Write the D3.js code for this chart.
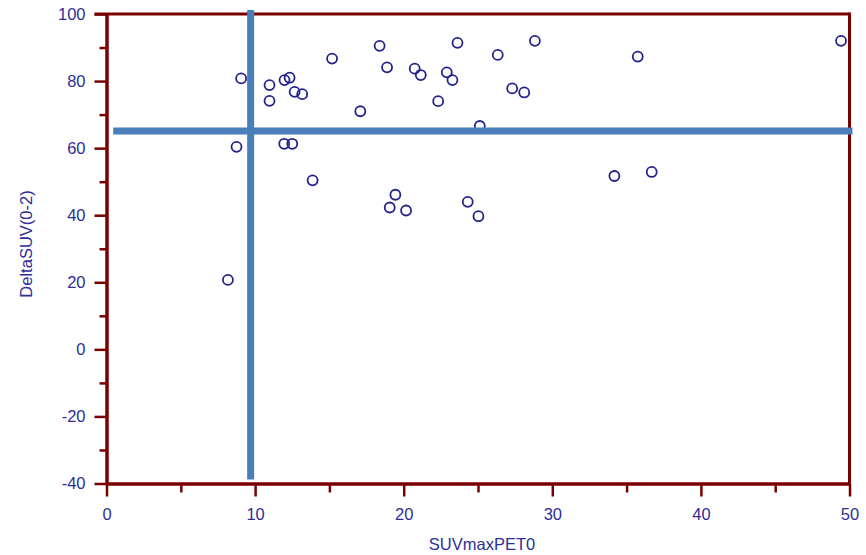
<!DOCTYPE html>
<html>
<head>
<meta charset="utf-8">
<script src="https://cdn.jsdelivr.net/npm/d3@7"></script>
<style>
  html, body { margin: 0; padding: 0; background: #fff; }
  svg { display: block; }
  text { font-family: Arial, "Liberation Sans", sans-serif; }
</style>
</head>
<body>
<svg id="chart" width="866" height="555"></svg>
<script>
// ---- Data ----
const suvmaxPET0 = [9.06, 10.97, 10.97, 11.98, 12.32, 12.66, 13.17, 15.18, 18.38, 18.88, 17.08, 8.75, 11.96, 12.5,
  23.62, 28.83, 26.33, 20.74, 21.15, 22.9, 23.28, 27.3, 28.11, 22.32, 25.12,
  13.87, 19.44, 19.06, 20.16, 24.31, 25.03, 8.17,
  35.75, 49.43, 34.18, 36.69];
const deltaSUV = [80.8, 78.8, 74.1, 80.3, 81.0, 76.8, 76.1, 86.7, 90.5, 84.1, 71.0, 60.4, 61.3, 61.3,
  91.4, 92.0, 87.8, 83.7, 81.8, 82.6, 80.3, 77.8, 76.6, 74.0, 66.6,
  50.4, 46.1, 42.3, 41.4, 44.0, 39.7, 20.7,
  87.3, 92.0, 51.7, 52.9];
const xMajorTicks = [0, 10, 20, 30, 40, 50];
const xMinorTicks = [5, 15, 25, 35, 45];
const yMajorTicks = [-40, -20, 0, 20, 40, 60, 80, 100];
const yMinorTicks = [-30, -10, 10, 30, 50, 70, 90];
// cut-off lines: [x1, y1, x2, y2] in data units
const cutoffVertical = [9.7, -38.8, 9.7, 101.2];
const cutoffHorizontal = [0.45, 65.1, 50.2, 65.1];
const xTitle = "SUVmaxPET0";
const yTitle = "DeltaSUV(0-2)";

// ---- Layout ----
const axisColor = "#7a0000";
const labelColor = "#2e2e96";
const pointColor = "#23238c";
const lineColor = "#4a7ebb";

const svg = d3.select("#chart");
const x = d3.scaleLinear().domain([0, 50]).range([106.5, 849.5]);
const y = d3.scaleLinear().domain([-40, 100]).range([483.5, 14]);
const fmt = d => String(d);

// Top border (extends left like a tick) and right border
svg.append("line")
  .attr("x1", x(0) - 12).attr("x2", x(50))
  .attr("y1", y(100)).attr("y2", y(100))
  .attr("stroke", axisColor).attr("stroke-width", 3);
svg.append("line")
  .attr("x1", x(50)).attr("x2", x(50))
  .attr("y1", y(100) - 1.5).attr("y2", y(-40))
  .attr("stroke", axisColor).attr("stroke-width", 3);

function styleAxis(g) {
  g.selectAll("path.domain").attr("stroke", axisColor).attr("stroke-width", 3);
  g.selectAll(".tick line").attr("stroke", axisColor).attr("stroke-width", 2.5);
  g.selectAll(".tick text").attr("fill", labelColor)
    .attr("font-family", "Arial, 'Liberation Sans', sans-serif")
    .attr("font-size", 16.5);
}

// Y axis minor ticks
svg.append("g").attr("transform", `translate(${x(0)},0)`)
  .call(d3.axisLeft(y).tickValues(yMinorTicks).tickSize(7).tickSizeOuter(0).tickFormat(""))
  .call(styleAxis);
// Y axis major ticks
svg.append("g").attr("transform", `translate(${x(0)},0)`)
  .call(d3.axisLeft(y).tickValues(yMajorTicks).tickSize(12).tickSizeOuter(0).tickPadding(9).tickFormat(fmt))
  .call(styleAxis);

// X axis minor ticks
svg.append("g").attr("transform", `translate(0,${y(-40)})`)
  .call(d3.axisBottom(x).tickValues(xMinorTicks).tickSize(9).tickSizeOuter(0).tickFormat(""))
  .call(styleAxis);
// X axis major ticks
svg.append("g").attr("transform", `translate(0,${y(-40)})`)
  .call(d3.axisBottom(x).tickValues(xMajorTicks).tickSize(13).tickSizeOuter(0).tickPadding(12).tickFormat(fmt))
  .call(styleAxis);

// Axis titles
svg.append("text")
  .attr("x", 482).attr("y", 550)
  .attr("text-anchor", "middle")
  .attr("fill", labelColor).attr("font-size", 16.5)
  .text(xTitle);
svg.append("text")
  .attr("transform", `translate(32,244) rotate(-90)`)
  .attr("text-anchor", "middle")
  .attr("fill", labelColor).attr("font-size", 16.5)
  .text(yTitle);

// Points
const pts = suvmaxPET0.map((v, i) => ({ x: v, y: deltaSUV[i] }));
svg.append("g").selectAll("circle").data(pts).join("circle")
  .attr("cx", d => x(d.x)).attr("cy", d => y(d.y))
  .attr("r", 5)
  .attr("fill", "none")
  .attr("stroke", pointColor).attr("stroke-width", 1.8);

// Cut-off lines
[cutoffVertical, cutoffHorizontal].forEach(c => {
  svg.append("line")
    .attr("x1", x(c[0])).attr("y1", y(c[1]))
    .attr("x2", x(c[2])).attr("y2", y(c[3]))
    .attr("stroke", lineColor).attr("stroke-width", 7);
});
</script>
</body>
</html>
